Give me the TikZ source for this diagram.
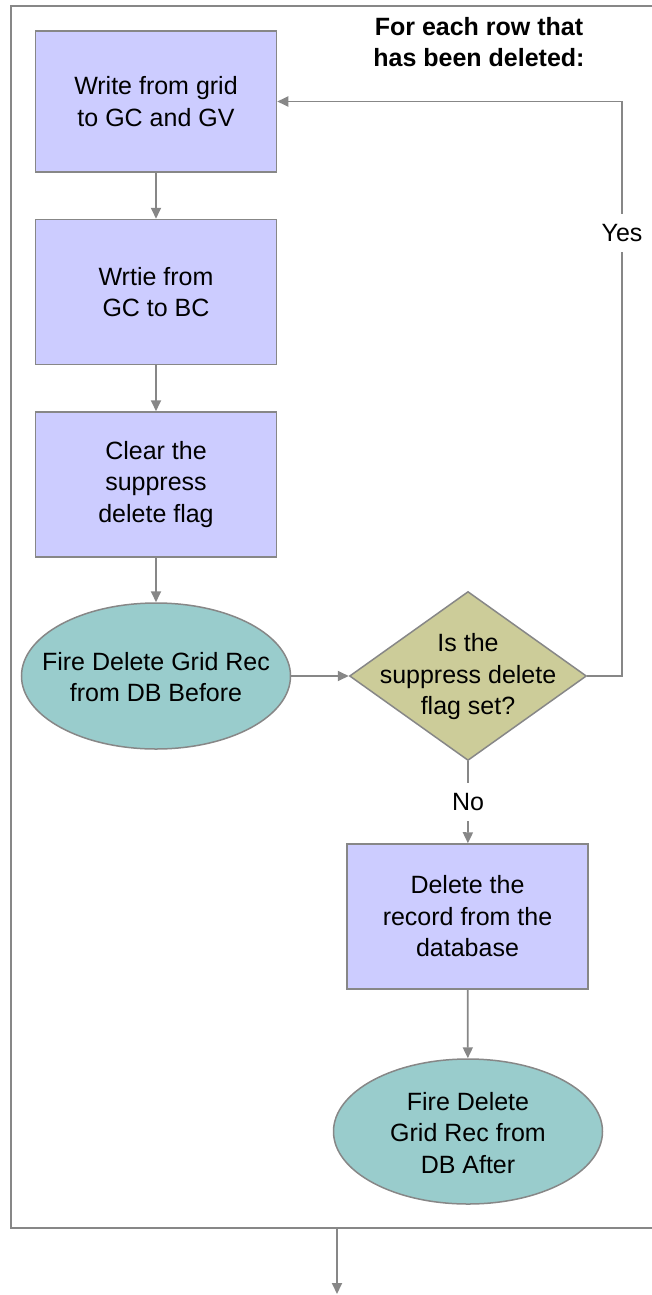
\documentclass[tikz,border=0pt]{standalone}
\usepackage{fontspec}
\setmainfont{Liberation Sans}
\usetikzlibrary{shapes.geometric, arrows.meta}
\definecolor{boxfill}{HTML}{CCCCFF}
\definecolor{ovalfill}{HTML}{99CCCC}
\definecolor{flagfill}{HTML}{CCCC99}
\definecolor{edgegray}{HTML}{878787}

\begin{document}
\begin{tikzpicture}[x = 1pt, y = -1pt, font=\fontsize{25}{31.5}\selectfont,
        stepbox/.style={rectangle, draw=edgegray, line width=1.5pt, fill=boxfill, minimum width=241pt, minimum height=145pt, align=center, inner sep=0pt},
        oval/.style={ellipse, draw=edgegray, line width=1.5pt, fill=ovalfill, minimum width=269pt, minimum height=146pt, inner sep=0pt},
        decision/.style={diamond, draw=edgegray, line width=1.5pt, fill=flagfill, minimum width=237pt, minimum height=169pt, inner sep=0pt},
        caption/.style={align=center, inner sep=0pt},
        answer/.style={inner sep=0pt, minimum height=38pt},
        wire/.style={draw=edgegray, line width=1.8pt},
        flow/.style={wire, -{Triangle[length=11pt, width=10pt]}}]

        \useasboundingbox (0, 0) rectangle (651, 1295);
        \draw[wire, line width=1.5pt] (660, 6) -- (11, 6) -- (11, 1228) -- (660, 1228);

        \node[caption, font=\fontsize{25}{31.5}\selectfont\bfseries] at (479, 42) (title) {For each row that\\has been deleted:};

        \node[stepbox, minimum height=141pt] at (156, 101.5) (grid) {Write from grid\\to GC and GV};
        \node[stepbox] at (156, 292) (gcbc) {Wrtie from\\GC to BC};
        \node[stepbox] at (156, 484.5) (clear) {Clear the\\suppress\\delete flag};

        \node[oval] at (156, 676) (firebefore) {};
        \node[caption] at (156, 677) (firebeforetext) {Fire Delete Grid Rec\\from DB Before};

        \node[decision] at (468, 676) (flag) {};
        \node[caption] at (468, 677) (flagtext) {Is the\\suppress delete\\flag set?};

        \node[answer] at (622, 233) (yes) {Yes};
        \node[answer] at (468, 802) (no) {No};

        \node[stepbox] at (467.5, 916.5) (delete) {Delete the\\record from the\\database};

        \node[oval, minimum height=145pt] at (468, 1131.5) (fireafter) {};
        \node[caption] at (468, 1133) (fireaftertext) {Fire Delete\\Grid Rec from\\DB After};

        \coordinate (framebottom) at (337, 1228);
        \coordinate (exit) at (337, 1294);

        \draw[flow] (grid) -- (gcbc);
        \draw[flow] (gcbc) -- (clear);
        \draw[flow] (clear) -- (firebefore);
        \draw[flow] (firebefore) -- (flag);

        \draw[wire] (flag.east) -| (yes.south);
        \draw[flow] (yes.north) |- (grid.east);

        \draw[wire] (flag.south) -- (no.north);
        \draw[flow] (no.south) -- (delete);
        \draw[flow] (delete) -- (fireafter);

        \draw[flow] (framebottom) -- (exit);
        \end{tikzpicture}
\end{document}
